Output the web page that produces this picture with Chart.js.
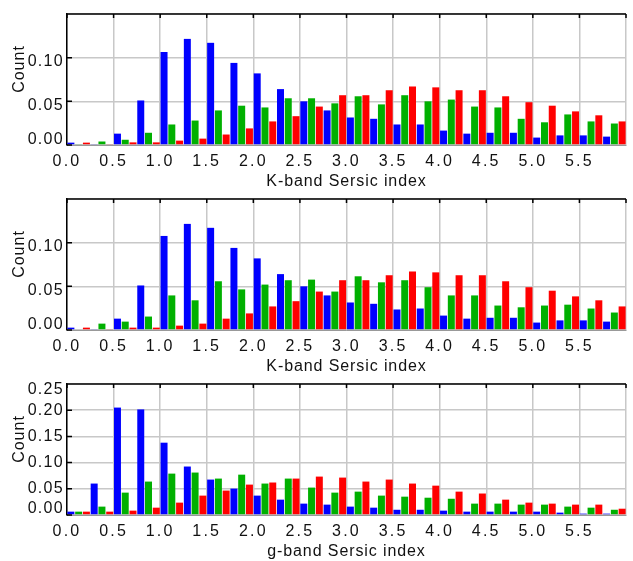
<!DOCTYPE html>
<html><head><meta charset="utf-8">
<script src="https://cdn.jsdelivr.net/npm/chart.js@4.4.1/dist/chart.umd.min.js"></script>
<style>
html,body{margin:0;padding:0;background:#fff;width:633px;height:561px;overflow:hidden;position:relative;}
canvas{position:absolute;left:0;}
</style></head><body>
<canvas id="c1" width="633" height="192" style="top:0px;width:633px;height:192px"></canvas>
<canvas id="c2" width="633" height="192" style="top:185px;width:633px;height:192px"></canvas>
<canvas id="c3" width="633" height="191" style="top:370px;width:633px;height:191px"></canvas>
<script>
// Histogram bins (lower edges), width 0.25
const binStarts = ['0.00','0.25','0.50','0.75','1.00','1.25','1.50','1.75','2.00','2.25','2.50','2.75',
                   '3.00','3.25','3.50','3.75','4.00','4.25','4.50','4.75','5.00','5.25','5.50','5.75'];
const xTickLabels = ['0.0','0.5','1.0','1.5','2.0','2.5','3.0','3.5','4.0','4.5','5.0','5.5'];
const yTicksK = ['0.00','0.05','0.10'];
const yTicksG = ['0.00','0.05','0.10','0.15','0.20','0.25'];
const yTitle = 'Count';
const xTitleK = 'K-band Sersic index';
const xTitleG = 'g-band Sersic index';

// Panel 1 (K-band)
const k1Blue  = [0.0027,0.001,0.013,0.051,0.1065,0.1215,0.117,0.094,0.082,0.064,0.050,0.0396,0.0315,0.030,0.0235,0.0235,0.0165,0.013,0.014,0.014,0.0085,0.011,0.011,0.0096];
const k1Green = [0.001,0.004,0.006,0.014,0.0235,0.028,0.0396,0.045,0.043,0.0535,0.0535,0.0477,0.0558,0.0465,0.057,0.050,0.052,0.044,0.043,0.030,0.026,0.035,0.027,0.0246];
const k1Red   = [0.0027,0.001,0.003,0.003,0.005,0.0073,0.012,0.019,0.027,0.033,0.044,0.057,0.057,0.0627,0.067,0.066,0.0627,0.0627,0.0558,0.049,0.045,0.0385,0.034,0.027];
// Panel 2 (K-band)
const k2Blue  = [0.0027,0.001,0.013,0.051,0.1077,0.1215,0.117,0.094,0.082,0.064,0.050,0.0396,0.0315,0.030,0.0235,0.0246,0.0165,0.013,0.014,0.014,0.0085,0.011,0.011,0.0096];
const k2Green = [0,0.0073,0.0096,0.0154,0.0396,0.034,0.0558,0.0465,0.052,0.057,0.0577,0.044,0.0615,0.0546,0.057,0.049,0.0396,0.0396,0.028,0.026,0.028,0.029,0.0246,0.020];
const k2Red   = [0.0027,0.001,0.0027,0.0027,0.005,0.0073,0.013,0.019,0.027,0.033,0.044,0.057,0.057,0.0627,0.067,0.066,0.0627,0.0627,0.0558,0.049,0.045,0.0385,0.034,0.027];
// Panel 3 (g-band)
const gBlue  = [0.0064,0.060,0.205,0.2015,0.138,0.0925,0.0676,0.0504,0.037,0.0293,0.0217,0.0198,0.016,0.014,0.010,0.010,0.0083,0.0064,0.0064,0.0064,0.0064,0.0045,0.0026,0.0026];
const gGreen = [0.0064,0.016,0.0427,0.0638,0.079,0.081,0.0695,0.077,0.060,0.0695,0.0523,0.0427,0.0446,0.037,0.035,0.033,0.031,0.0217,0.0217,0.0198,0.0198,0.016,0.014,0.010];
const gRed   = [0.0064,0.0064,0.0083,0.014,0.0236,0.037,0.0466,0.058,0.062,0.0695,0.0733,0.0714,0.0638,0.0676,0.060,0.056,0.0446,0.041,0.0293,0.0236,0.0217,0.0198,0.0198,0.012];

const FONT = "'Liberation Sans', Arial, Helvetica, sans-serif";
const GRID = '#c8c8c8';

function withSpacing(obj, name, spacing) {
  const orig = obj[name].bind(obj);
  obj[name] = function (...args) {
    const ctx = this.ctx;
    const old = ctx.letterSpacing;
    ctx.letterSpacing = spacing;
    const r = orig(...args);
    ctx.letterSpacing = old;
    return r;
  };
}

const stylePlugin = {
  id: 'labelStyle',
  afterLayout(chart, args, opts) {
    const xs = chart.scales.x2, ys = chart.scales.y;
    if (xs._styled) return;
    xs._styled = true;
    withSpacing(xs, 'drawLabels', '2.2px');
    withSpacing(xs, 'drawTitle', '0.9px');
    withSpacing(ys, 'drawLabels', '1.3px');
    const origItems = ys._computeLabelItems.bind(ys);
    const shift = chart.options.yLabelShift;
    ys._computeLabelItems = function (ca) {
      const items = origItems(ca);
      const n = items.length;
      items.forEach((it, i) => {
        const d = i === 0 ? shift.first : (i === n - 1 ? shift.last : shift.mid);
        it.options.translation = [it.options.translation[0], it.options.translation[1] + d];
      });
      return items;
    };
  }
};

const framePlugin = {
  id: 'frame',
  afterDraw(chart) {
    const {ctx, chartArea: a} = chart;
    const xs = chart.scales.x2, ys = chart.scales.y;
    ctx.save();
    ctx.strokeStyle = '#000';
    ctx.lineWidth = 1.5;
    ctx.beginPath();
    ctx.moveTo(a.left, a.top); ctx.lineTo(a.right, a.top);
    xs.ticks.forEach(t => { const px = xs.getPixelForValue(t.value); ctx.moveTo(px, a.top); ctx.lineTo(px, a.top + 4); });
    ys.ticks.forEach(t => { const py = ys.getPixelForValue(t.value); ctx.moveTo(a.left, py); ctx.lineTo(a.left + 5, py); });
    ctx.stroke();
    // y-axis title
    ctx.letterSpacing = '1px';
    ctx.fillStyle = '#111';
    ctx.font = '16px ' + FONT;
    ctx.translate(19.5, a.top + 55);
    ctx.rotate(-Math.PI / 2);
    ctx.textAlign = 'center';
    ctx.textBaseline = 'middle';
    ctx.fillText(yTitle, 0, 0);
    ctx.restore();
  }
};

function makePanel(id, blue, green, red, yMax, yLabels, xTitle, H, titlePad, yShift) {
  const ds = (data, color) => ({ data, backgroundColor: color, borderWidth: 0,
                                 barPercentage: 0.9, categoryPercentage: 1.0 });
  new Chart(document.getElementById(id), {
    type: 'bar',
    data: { labels: binStarts, datasets: [ds(blue, '#0000ff'), ds(green, '#00b000'), ds(red, '#ff0000')] },
    plugins: [stylePlugin, framePlugin],
    options: {
      responsive: false, animation: false, devicePixelRatio: 1,
      yLabelShift: yShift,
      layout: { padding: { top: 14, left: 0, right: 0, bottom: 0 } },
      plugins: { legend: { display: false }, tooltip: { enabled: false } },
      scales: {
        x: { type: 'category', display: false, offset: true, grid: { display: false } },
        x2: {
          type: 'linear', position: 'bottom', min: 0, max: 6, offset: false,
          afterFit: s => { s.height = H - 145; },
          ticks: { stepSize: 0.5, autoSkip: false, maxRotation: 0, minRotation: 0, padding: 7,
                   color: '#111', font: { family: FONT, size: 16 },
                   callback: (v, i) => xTickLabels[i] ?? '' },
          grid: { color: GRID, lineWidth: 1.5, drawTicks: false, offset: false },
          border: { color: '#999', width: 1 },
          title: { display: true, text: xTitle, color: '#111', font: { family: FONT, size: 16 },
                   padding: { top: 0, bottom: titlePad } }
        },
        y: {
          type: 'linear', position: 'left', min: 0, max: yMax,
          afterFit: s => { s.width = 67; },
          ticks: { stepSize: 0.05, padding: 3, color: '#111', font: { family: FONT, size: 16 },
                   callback: (v, i) => yLabels[i] ?? '' },
          grid: { color: GRID, lineWidth: 1.5, drawTicks: false },
          border: { color: '#000', width: 1.5 }
        }
      }
    }
  });
}

makePanel('c1', k1Blue, k1Green, k1Red, 0.15, yTicksK, xTitleK, 192, 1, {first: -5, mid: 4, last: 0});
makePanel('c2', k2Blue, k2Green, k2Red, 0.15, yTicksK, xTitleK, 192, 1, {first: -5, mid: 4, last: 0});
makePanel('c3', gBlue, gGreen, gRed, 0.25, yTicksG, xTitleG, 191, 0, {first: -6, mid: 0, last: 6});
</script>
</body></html>
